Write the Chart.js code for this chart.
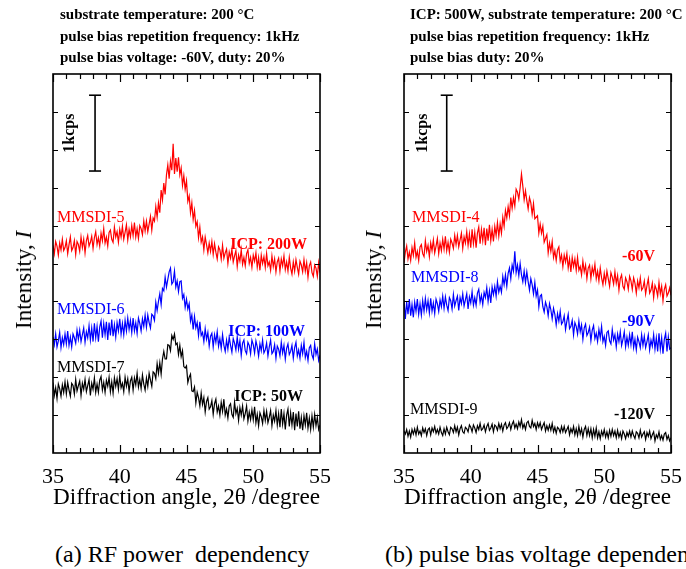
<!DOCTYPE html>
<html>
<head>
<meta charset="utf-8">
<script src="https://cdn.jsdelivr.net/npm/chart.js@4.4.0/dist/chart.umd.min.js"></script>
<style>
  body { margin: 0; width: 686px; height: 569px; overflow: hidden; background: #fff;
         font-family: "Liberation Serif", "Times New Roman", serif; position: relative; color: #000; }
  .panel { position: absolute; top: 0; width: 343px; height: 530px; }
  .note { position: absolute; top: 4px; font-size: 15px; font-weight: bold; line-height: 21.5px; white-space: nowrap; }
  .ytitle { position: absolute; top: 280px; font-size: 23px; white-space: nowrap;
            transform: translate(-50%, -50%) rotate(-90deg); }
  .caption { position: absolute; top: 541px; font-size: 24px; white-space: nowrap; }
</style>
</head>
<body>

<div class="panel" style="left:0"><canvas id="chartA" width="343" height="530"></canvas></div>
<div class="panel" style="left:343px"><canvas id="chartB" width="343" height="530"></canvas></div>

<div class="note" style="left:60px">substrate temperature: 200 °C<br>pulse bias repetition frequency: 1kHz<br>pulse bias voltage: -60V, duty: 20%</div>
<div class="note" style="left:410px">ICP: 500W, substrate temperature: 200 °C<br>pulse bias repetition frequency: 1kHz<br>pulse bias duty: 20%</div>

<div class="ytitle" style="left:24px">Intensity, <i>I</i></div>
<div class="ytitle" style="left:374px">Intensity, <i>I</i></div>

<div class="caption" style="left:55px">(a) RF power&nbsp; dependency</div>
<div class="caption" style="left:385px">(b) pulse bias voltage dependency</div>

<script>
// ---- DATA (2θ grid in degrees, intensities in kcps, stacked offsets as plotted) ----
const ANGLE_START = 35;
const ANGLE_STEP = 0.1;
const ANGLE_COUNT = 201;
const angles = Array.from({ length: ANGLE_COUNT }, (_, i) => +(ANGLE_START + i * ANGLE_STEP).toFixed(1));

const xTickValues = [35, 40, 45, 50, 55];

// (a) RF power dependency -- one row per degree (35.0 ... 35.9, 36.0 ...)
const mmsdi5 = [
  2.74,2.63,2.79,2.73,2.61,2.77,2.68,2.82,2.67,2.71,
  2.80,2.63,2.75,2.85,2.67,2.71,2.80,2.62,2.79,2.75,
  2.66,2.85,2.71,2.82,2.64,2.80,2.87,2.73,2.78,2.86,
  2.70,2.84,2.92,2.75,2.84,2.73,2.90,2.80,2.96,2.77,
  2.85,2.73,2.91,2.94,2.82,2.78,2.98,2.85,2.92,2.78,
  2.95,2.85,2.99,2.82,2.91,3.01,2.81,2.95,2.85,3.00,
  2.87,3.04,2.85,2.96,2.83,3.00,2.96,2.88,3.06,2.93,
  3.06,2.92,3.02,3.12,2.94,3.10,3.06,3.25,3.11,3.30,
  3.17,3.47,3.34,3.56,3.41,3.67,3.80,3.62,3.85,3.73,
  4.08,3.68,3.89,3.71,3.90,3.67,3.76,3.53,3.66,3.48,
  3.59,3.32,3.39,3.17,3.30,3.08,3.20,2.99,3.05,2.84,
  2.98,2.78,2.85,2.68,2.85,2.75,2.64,2.77,2.66,2.79,
  2.62,2.76,2.65,2.56,2.72,2.68,2.56,2.74,2.57,2.64,
  2.69,2.50,2.65,2.57,2.69,2.52,2.60,2.67,2.46,2.61,
  2.53,2.68,2.49,2.58,2.47,2.63,2.68,2.50,2.58,2.45,
  2.61,2.53,2.64,2.45,2.58,2.41,2.61,2.50,2.59,2.45,
  2.63,2.47,2.52,2.41,2.60,2.46,2.56,2.39,2.52,2.57,
  2.40,2.56,2.47,2.60,2.42,2.52,2.40,2.58,2.44,2.36,
  2.52,2.40,2.55,2.45,2.36,2.53,2.48,2.39,2.55,2.40,
  2.51,2.32,2.47,2.52,2.38,2.33,2.48,2.44,2.33,2.51,
  2.38
];
const mmsdi6 = [
  1.53,1.43,1.57,1.40,1.48,1.59,1.39,1.52,1.43,1.57,
  1.44,1.61,1.42,1.53,1.40,1.57,1.52,1.45,1.62,1.50,
  1.62,1.47,1.56,1.65,1.46,1.60,1.52,1.68,1.49,1.65,
  1.47,1.71,1.52,1.67,1.47,1.66,1.74,1.52,1.71,1.56,
  1.73,1.49,1.72,1.55,1.76,1.54,1.69,1.53,1.72,1.61,
  1.77,1.57,1.71,1.56,1.75,1.61,1.78,1.63,1.75,1.59,
  1.78,1.61,1.72,1.58,1.78,1.71,1.61,1.77,1.67,1.82,
  1.66,1.82,1.72,1.65,1.83,1.81,1.75,1.99,1.88,2.00,
  2.10,1.96,2.17,2.14,2.32,2.19,2.29,2.39,2.44,2.23,
  2.26,2.40,2.19,2.27,2.13,2.26,2.27,2.04,2.09,1.92,
  2.03,1.90,1.97,1.74,1.82,1.63,1.80,1.65,1.72,1.55,
  1.73,1.55,1.59,1.47,1.64,1.50,1.59,1.41,1.54,1.58,
  1.40,1.56,1.46,1.60,1.41,1.51,1.38,1.56,1.42,1.34,
  1.49,1.37,1.53,1.42,1.33,1.51,1.45,1.36,1.53,1.37,
  1.48,1.29,1.45,1.49,1.35,1.31,1.46,1.42,1.31,1.49,
  1.43,1.32,1.48,1.40,1.28,1.44,1.35,1.49,1.32,1.36,
  1.45,1.28,1.40,1.49,1.31,1.34,1.43,1.25,1.41,1.37,
  1.28,1.46,1.32,1.42,1.24,1.38,1.44,1.30,1.34,1.42,
  1.25,1.39,1.46,1.28,1.36,1.25,1.42,1.31,1.46,1.26,
  1.34,1.22,1.39,1.42,1.29,1.24,1.44,1.30,1.37,1.22,
  1.29
];
const mmsdi7 = [
  0.93,0.76,0.86,0.72,0.91,0.85,0.75,0.90,0.80,0.94,
  0.78,0.93,0.83,0.75,0.92,0.89,0.78,0.97,0.82,0.89,
  0.95,0.76,0.92,0.84,0.97,0.81,0.89,0.97,0.76,0.92,
  0.84,0.99,0.80,0.91,0.80,0.96,1.01,0.83,0.93,0.80,
  0.96,0.88,1.00,0.81,0.94,0.79,0.99,0.88,0.98,0.84,
  1.02,0.86,0.92,0.81,1.00,0.88,0.98,0.81,0.95,1.00,
  0.83,0.99,0.90,1.05,0.87,0.97,0.85,1.03,0.91,0.83,
  0.99,0.88,1.05,0.96,0.88,1.07,1.05,0.98,1.18,1.05,
  1.19,1.04,1.24,1.34,1.24,1.24,1.43,1.42,1.35,1.55,
  1.50,1.57,1.43,1.45,1.30,1.42,1.27,1.35,1.14,1.12,
  1.15,0.93,1.00,1.04,0.82,0.81,0.87,0.66,0.80,0.73,
  0.62,0.79,0.64,0.73,0.54,0.68,0.73,0.58,0.61,0.69,
  0.51,0.65,0.71,0.54,0.62,0.50,0.67,0.55,0.71,0.50,
  0.58,0.46,0.62,0.65,0.51,0.47,0.67,0.52,0.59,0.43,
  0.60,0.50,0.62,0.45,0.52,0.62,0.42,0.54,0.44,0.57,
  0.44,0.61,0.40,0.51,0.36,0.53,0.48,0.39,0.56,0.43,
  0.55,0.40,0.47,0.56,0.36,0.50,0.42,0.56,0.37,0.52,
  0.34,0.58,0.38,0.52,0.31,0.50,0.58,0.35,0.53,0.37,
  0.54,0.30,0.52,0.35,0.55,0.32,0.47,0.30,0.49,0.37,
  0.53,0.33,0.46,0.31,0.49,0.34,0.51,0.36,0.47,0.31,
  0.37
];

// (b) pulse bias voltage dependency
const mmsdi4 = [
  2.51,2.65,2.73,2.56,2.65,2.54,2.71,2.61,2.77,2.58,
  2.66,2.54,2.72,2.75,2.63,2.59,2.80,2.66,2.74,2.59,
  2.77,2.67,2.81,2.64,2.73,2.83,2.63,2.77,2.67,2.82,
  2.69,2.86,2.67,2.78,2.65,2.82,2.77,2.70,2.87,2.75,
  2.87,2.72,2.81,2.90,2.70,2.85,2.77,2.92,2.74,2.89,
  2.71,2.95,2.76,2.91,2.71,2.90,2.98,2.76,2.95,2.80,
  2.97,2.74,2.96,2.80,3.01,2.80,2.95,2.79,2.99,2.87,
  3.04,2.86,3.02,2.90,3.11,2.99,3.20,3.10,3.25,3.13,
  3.37,3.23,3.37,3.26,3.48,3.44,3.35,3.50,3.68,3.52,
  3.34,3.46,3.33,3.22,3.37,3.30,3.15,3.29,3.09,3.11,
  3.13,2.90,3.02,2.90,2.99,2.78,2.83,2.88,2.64,2.77,
  2.66,2.79,2.58,2.67,2.54,2.68,2.72,2.53,2.61,2.46,
  2.61,2.52,2.63,2.44,2.56,2.39,2.58,2.46,2.56,2.41,
  2.58,2.41,2.46,2.35,2.53,2.39,2.48,2.30,2.44,2.48,
  2.30,2.45,2.36,2.49,2.30,2.40,2.27,2.44,2.31,2.22,
  2.37,2.25,2.40,2.30,2.20,2.38,2.32,2.23,2.39,2.24,
  2.34,2.15,2.30,2.35,2.20,2.16,2.31,2.26,2.16,2.33,
  2.27,2.16,2.31,2.24,2.11,2.27,2.18,2.31,2.15,2.18,
  2.27,2.10,2.21,2.30,2.11,2.15,2.24,2.05,2.21,2.16,
  2.07,2.25,2.10,2.20,2.01,2.16,2.22,2.07,2.11,2.18,
  2.08
];
const mmsdi8 = [
  2.01,1.77,1.99,1.83,2.03,1.81,1.96,1.79,1.99,1.87,
  2.03,1.83,1.97,1.82,2.01,1.87,2.04,1.89,2.01,1.85,
  2.04,1.87,1.98,1.84,2.03,1.97,1.87,2.02,1.93,2.07,
  1.91,2.06,1.95,1.88,2.05,2.01,1.90,2.09,1.94,2.01,
  2.07,1.88,2.05,1.97,2.10,1.94,2.02,2.10,1.90,2.06,
  1.98,2.13,1.95,2.05,1.95,2.11,2.16,1.99,2.08,1.96,
  2.12,2.05,2.18,2.00,2.14,1.98,2.19,2.09,2.20,2.07,
  2.26,2.12,2.20,2.12,2.33,2.22,2.35,2.20,2.37,2.44,
  2.30,2.48,2.40,2.66,2.38,2.48,2.34,2.50,2.35,2.26,
  2.40,2.25,2.39,2.26,2.15,2.30,2.22,2.10,2.25,2.07,
  2.15,1.93,2.07,2.09,1.93,1.86,1.99,1.93,1.81,1.97,
  1.89,1.77,1.91,1.83,1.69,1.84,1.74,1.87,1.70,1.73,
  1.81,1.63,1.74,1.83,1.64,1.67,1.75,1.56,1.72,1.67,
  1.57,1.74,1.60,1.69,1.50,1.65,1.70,1.55,1.59,1.66,
  1.48,1.62,1.68,1.51,1.58,1.47,1.63,1.52,1.67,1.47,
  1.54,1.42,1.59,1.61,1.48,1.44,1.63,1.49,1.56,1.40,
  1.57,1.47,1.60,1.42,1.50,1.60,1.40,1.53,1.42,1.56,
  1.43,1.60,1.39,1.50,1.36,1.53,1.47,1.39,1.56,1.42,
  1.54,1.39,1.47,1.56,1.36,1.49,1.41,1.56,1.37,1.52,
  1.34,1.58,1.37,1.52,1.31,1.50,1.58,1.34,1.53,1.37,
  1.39
];
const mmsdi9 = [
  0.29,0.25,0.31,0.22,0.29,0.21,0.31,0.25,0.32,0.24,
  0.34,0.25,0.29,0.23,0.33,0.27,0.32,0.23,0.31,0.33,
  0.24,0.33,0.28,0.35,0.26,0.31,0.25,0.34,0.27,0.23,
  0.32,0.25,0.34,0.28,0.24,0.34,0.32,0.27,0.36,0.28,
  0.34,0.24,0.32,0.36,0.28,0.26,0.34,0.32,0.28,0.37,
  0.34,0.28,0.37,0.33,0.27,0.36,0.31,0.39,0.30,0.32,
  0.37,0.28,0.35,0.39,0.30,0.33,0.38,0.28,0.37,0.35,
  0.30,0.39,0.32,0.38,0.29,0.37,0.40,0.32,0.35,0.40,
  0.31,0.38,0.42,0.33,0.38,0.32,0.41,0.35,0.44,0.33,
  0.38,0.31,0.40,0.42,0.35,0.33,0.43,0.35,0.39,0.31,
  0.40,0.34,0.40,0.31,0.36,0.40,0.29,0.36,0.30,0.37,
  0.30,0.39,0.28,0.34,0.26,0.34,0.32,0.27,0.35,0.28,
  0.35,0.27,0.31,0.35,0.24,0.32,0.27,0.35,0.24,0.32,
  0.23,0.35,0.25,0.32,0.21,0.31,0.35,0.23,0.32,0.23,
  0.32,0.20,0.31,0.22,0.33,0.20,0.28,0.19,0.29,0.23,
  0.31,0.21,0.28,0.20,0.30,0.22,0.31,0.23,0.29,0.20,
  0.30,0.21,0.27,0.19,0.29,0.25,0.19,0.27,0.22,0.29,
  0.21,0.29,0.23,0.19,0.28,0.26,0.20,0.30,0.21,0.25,
  0.28,0.18,0.27,0.22,0.29,0.19,0.24,0.28,0.16,0.24,
  0.20,0.28,0.18,0.23,0.17,0.25,0.27,0.18,0.23,0.16,
  0.20
];

// scale bar: 1 kcps
const scaleBarKcps = [3.72, 4.72];

// ---- STYLE / LAYOUT ----
const FONT = '"Liberation Serif", "Times New Roman", serif';
const RED = '#ff0000', BLUE = '#0000ff', BLACK = '#000000';

function toPoints(values) {
  return values.map((v, i) => ({ x: angles[i], y: v }));
}

// frame + inward tick marks (positions from the chart's own scales)
const frameTicks = {
  id: 'frameTicks',
  afterDatasetsDraw(chart) {
    const { ctx, chartArea: a, scales: { x, y } } = chart;
    ctx.save();
    ctx.strokeStyle = '#000';
    ctx.lineWidth = 1.6;
    ctx.strokeRect(a.left, a.top, a.right - a.left, a.bottom - a.top);
    ctx.lineWidth = 1.2;
    ctx.beginPath();
    for (let t = 35; t <= 55; t++) {
      const px = Math.round(x.getPixelForValue(t)) + 0.5;
      const len = t % 5 === 0 ? 8 : 5;
      ctx.moveTo(px, a.bottom); ctx.lineTo(px, a.bottom - len);
      ctx.moveTo(px, a.top); ctx.lineTo(px, a.top + len);
    }
    for (let v = 0.5; v < 5; v += 0.5) {
      const py = Math.round(y.getPixelForValue(v)) + 0.5;
      ctx.moveTo(a.left, py); ctx.lineTo(a.left + 5, py);
      ctx.moveTo(a.right, py); ctx.lineTo(a.right - 5, py);
    }
    ctx.stroke();
    ctx.restore();
  }
};

// in-plot sample labels + scale-bar label
const plotLabels = {
  id: 'plotLabels',
  afterDatasetsDraw(chart, args, opts) {
    const { ctx, scales: { x, y } } = chart;
    ctx.save();
    ctx.textBaseline = 'middle';
    opts.items.forEach(it => {
      ctx.font = (it.bold ? 'bold ' : '') + it.size + 'px ' + FONT;
      ctx.fillStyle = it.color;
      ctx.textAlign = it.align;
      ctx.fillText(it.text, x.getPixelForValue(it.x), y.getPixelForValue(it.y));
    });
    const s = opts.scaleText;
    ctx.translate(x.getPixelForValue(s.x), y.getPixelForValue(s.y));
    ctx.rotate(-Math.PI / 2);
    ctx.font = 'bold 16px ' + FONT;
    ctx.fillStyle = '#000';
    ctx.textAlign = 'center';
    ctx.fillText('1kcps', 0, 0);
    ctx.restore();
  }
};

function makePanel(canvasId, series, labels, padLeft, padRight, barX, scaleTextX) {
  const datasets = series.map(s => ({
    data: toPoints(s.values),
    borderColor: s.color,
    borderWidth: 1.2,
    pointRadius: 0,
    tension: 0
  }));
  datasets.push({
    data: scaleBarKcps.map(v => ({ x: barX, y: v })),
    borderColor: BLACK,
    borderWidth: 1.6,
    pointStyle: 'line',
    pointRadius: 6,
    pointBorderWidth: 1.6,
    pointBorderColor: BLACK,
    tension: 0
  });

  return new Chart(document.getElementById(canvasId), {
    type: 'line',
    data: { datasets },
    options: {
      responsive: false,
      animation: false,
      layout: { padding: { left: padLeft, right: padRight, top: 74, bottom: 18 } },
      plugins: {
        legend: { display: false },
        tooltip: { enabled: false },
        plotLabels: { items: labels, scaleText: { x: scaleTextX, y: 4.22 } }
      },
      scales: {
        x: {
          type: 'linear', min: 35, max: 55,
          afterBuildTicks: sc => { sc.ticks = xTickValues.map(v => ({ value: v })); },
          afterFit: sc => { sc.height = 59; sc.paddingLeft = 0; sc.paddingRight = 0; },
          grid: { display: false, drawTicks: false },
          border: { display: false },
          ticks: { color: '#000', padding: 11, font: { family: FONT, size: 22 } },
          title: {
            display: true, text: 'Diffraction angle, 2θ /degree', color: '#000',
            font: { family: FONT, size: 24 }, padding: { top: 0, bottom: 0 }
          }
        },
        y: { display: false, min: 0, max: 5 }
      }
    },
    plugins: [frameTicks, plotLabels]
  });
}

makePanel('chartA',
  [ { values: mmsdi5, color: RED }, { values: mmsdi6, color: BLUE }, { values: mmsdi7, color: BLACK } ],
  [
    { text: 'MMSDI-5', x: 35.3, y: 3.10, color: RED, align: 'left', size: 16 },
    { text: 'ICP: 200W', x: 54.03, y: 2.74, color: RED, align: 'right', size: 16, bold: true },
    { text: 'MMSDI-6', x: 35.3, y: 1.89, color: BLUE, align: 'left', size: 16 },
    { text: 'ICP: 100W', x: 53.88, y: 1.60, color: BLUE, align: 'right', size: 16, bold: true },
    { text: 'MMSDI-7', x: 35.3, y: 1.13, color: BLACK, align: 'left', size: 16 },
    { text: 'ICP: 50W', x: 53.73, y: 0.74, color: BLACK, align: 'right', size: 16, bold: true }
  ],
  53, 23, 38.15, 36.27);

makePanel('chartB',
  [ { values: mmsdi4, color: RED }, { values: mmsdi8, color: BLUE }, { values: mmsdi9, color: BLACK } ],
  [
    { text: 'MMSDI-4', x: 35.6, y: 3.10, color: RED, align: 'left', size: 16 },
    { text: '-60V', x: 53.8, y: 2.59, color: RED, align: 'right', size: 16, bold: true },
    { text: 'MMSDI-8', x: 35.52, y: 2.31, color: BLUE, align: 'left', size: 16 },
    { text: '-90V', x: 53.8, y: 1.73, color: BLUE, align: 'right', size: 16, bold: true },
    { text: 'MMSDI-9', x: 35.45, y: 0.57, color: BLACK, align: 'left', size: 16 },
    { text: '-120V', x: 53.8, y: 0.50, color: BLACK, align: 'right', size: 16, bold: true }
  ],
  61, 15, 38.2, 36.42);
</script>
</body>
</html>
